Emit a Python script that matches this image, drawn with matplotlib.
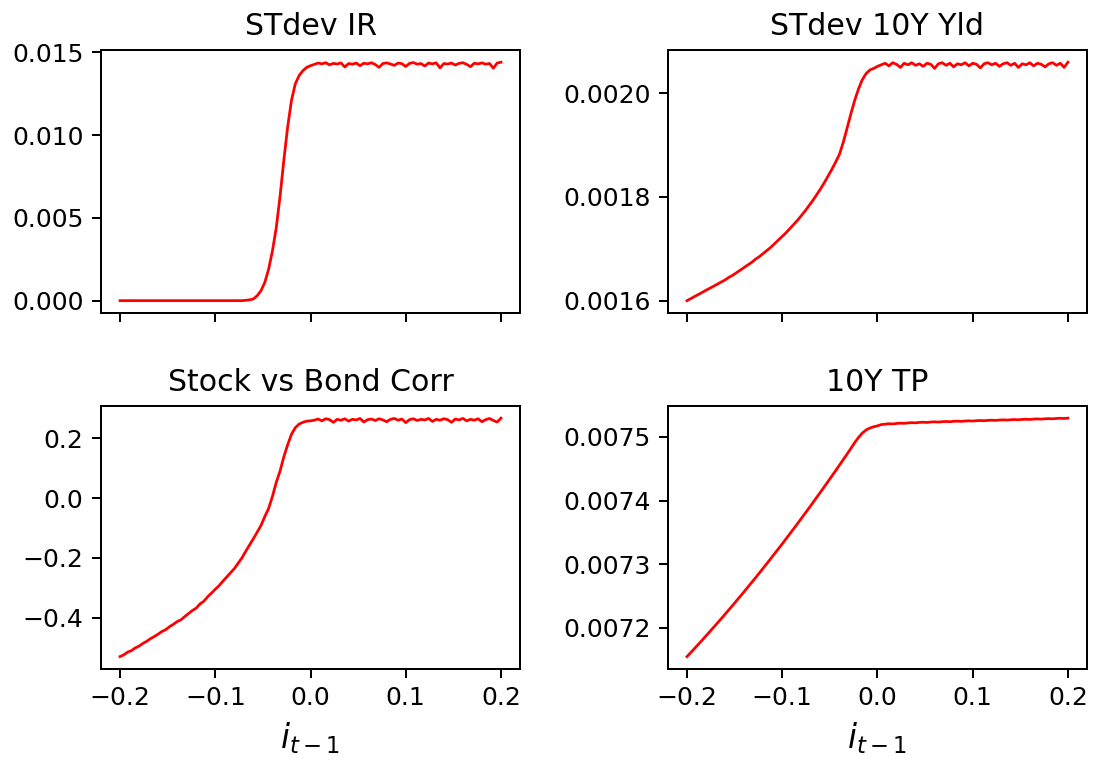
import numpy as np
import matplotlib.pyplot as plt

# lagged short rate grid, -0.2 .. 0.2 in steps of 0.004
i_lag = np.round(np.arange(101) * 0.004 - 0.2, 3)

stdev_ir = [
    0.0, 0.0, 0.0, 0.0, 0.0, 0.0, 0.0, 0.0, 0.0, 0.0,
    0.0, 0.0, 0.0, 0.0, 0.0, 0.0, 0.0, 0.0, 0.0, 0.0,
    0.0, 0.0, 0.0, 0.0, 0.0, 0.0, 0.0, 0.0, 0.0, 0.0,
    0.0, 0.0, 0.0, 0.00002, 0.00005, 0.0001, 0.0003, 0.0006, 0.0011, 0.0019,
    0.0030, 0.0044, 0.0063, 0.0085, 0.0105, 0.0121, 0.0131, 0.0136, 0.0139, 0.0141,
    0.0142, 0.01428, 0.01436, 0.01431, 0.01438, 0.01425, 0.01434, 0.01430, 0.01437, 0.01412,
    0.01433, 0.01429, 0.01436, 0.01420, 0.01435, 0.01431, 0.01438, 0.01427, 0.01410, 0.01433,
    0.01437, 0.01430, 0.01422, 0.01436, 0.01432, 0.01415, 0.01434, 0.01439, 0.01429, 0.01433,
    0.01418, 0.01436, 0.01431, 0.01437, 0.01407, 0.01433, 0.01430, 0.01436, 0.01424, 0.01434,
    0.01438, 0.01428, 0.01414, 0.01435, 0.01431, 0.01437, 0.01429, 0.01433, 0.01405, 0.01436,
    0.01441,
]

stdev_10y = [
    0.001600, 0.001604, 0.001608, 0.001612, 0.001616, 0.001620, 0.001624, 0.001628, 0.001632, 0.001636,
    0.001640, 0.001645, 0.001649, 0.001654, 0.001659, 0.001664, 0.001669, 0.001674, 0.001680, 0.001685,
    0.001691, 0.001697, 0.001703, 0.001710, 0.001717, 0.001724, 0.001731, 0.001739, 0.001747, 0.001755,
    0.001764, 0.001773, 0.001783, 0.001793, 0.001804, 0.001815, 0.001827, 0.001840, 0.001853, 0.001867,
    0.001882, 0.001905, 0.001932, 0.001960, 0.001986, 0.002008, 0.002026, 0.002038, 0.002045, 0.002048,
    0.002052, 0.002055, 0.002058, 0.002053, 0.002059, 0.002056, 0.002050, 0.002058, 0.002055, 0.002059,
    0.002054, 0.002057, 0.002052, 0.002058, 0.002056, 0.002048, 0.002057, 0.002059, 0.002054, 0.002058,
    0.002051, 0.002057, 0.002055, 0.002059, 0.002053, 0.002058, 0.002056, 0.002049, 0.002057, 0.002059,
    0.002055, 0.002058, 0.002052, 0.002057, 0.002059, 0.002054, 0.002058, 0.002050, 0.002057, 0.002055,
    0.002059, 0.002053, 0.002058, 0.002056, 0.002051, 0.002057, 0.002059, 0.002054, 0.002058, 0.002050,
    0.002060,
]

stock_bond_corr = [
    -0.530, -0.524, -0.515, -0.510, -0.501, -0.495, -0.486, -0.479, -0.470, -0.463,
    -0.455, -0.446, -0.440, -0.430, -0.422, -0.413, -0.407, -0.396, -0.386, -0.376,
    -0.368, -0.354, -0.345, -0.330, -0.318, -0.305, -0.293, -0.278, -0.264, -0.250,
    -0.236, -0.218, -0.200, -0.178, -0.157, -0.136, -0.114, -0.092, -0.062, -0.035,
    0.005, 0.052, 0.090, 0.138, 0.178, 0.213, 0.235, 0.247, 0.253, 0.257,
    0.258, 0.260, 0.264, 0.258, 0.265, 0.262, 0.253, 0.263, 0.260, 0.265,
    0.257, 0.263, 0.261, 0.266, 0.254, 0.262, 0.264, 0.259, 0.265, 0.261,
    0.255, 0.263, 0.266, 0.260, 0.264, 0.252, 0.262, 0.265, 0.259, 0.263,
    0.261, 0.266, 0.256, 0.263, 0.260, 0.265, 0.262, 0.253, 0.264, 0.261,
    0.266, 0.258, 0.263, 0.260, 0.265, 0.255, 0.262, 0.266, 0.259, 0.254,
    0.267,
]

tp_10y = [
    0.0071550, 0.0071614, 0.0071679, 0.0071744, 0.0071809, 0.0071876, 0.0071943, 0.0072010, 0.0072078, 0.0072147,
    0.0072216, 0.0072285, 0.0072356, 0.0072427, 0.0072498, 0.0072570, 0.0072643, 0.0072716, 0.0072789, 0.0072864,
    0.0072939, 0.0073014, 0.0073090, 0.0073167, 0.0073244, 0.0073321, 0.0073400, 0.0073479, 0.0073558, 0.0073638,
    0.0073719, 0.0073800, 0.0073881, 0.0073964, 0.0074047, 0.0074130, 0.0074214, 0.0074299, 0.0074384, 0.0074469,
    0.0074556, 0.0074643, 0.0074730, 0.0074818, 0.0074910, 0.0074990, 0.0075060, 0.0075110, 0.0075140, 0.0075160,
    0.0075175, 0.0075195, 0.0075201, 0.0075208, 0.0075205, 0.0075212, 0.0075217, 0.0075214, 0.0075221, 0.0075225,
    0.0075222, 0.0075229, 0.0075232, 0.0075228, 0.0075235, 0.0075238, 0.0075234, 0.0075240, 0.0075243, 0.0075240,
    0.0075246, 0.0075249, 0.0075245, 0.0075251, 0.0075254, 0.0075250, 0.0075256, 0.0075259, 0.0075255, 0.0075261,
    0.0075264, 0.0075260, 0.0075266, 0.0075269, 0.0075265, 0.0075271, 0.0075274, 0.0075270, 0.0075276, 0.0075279,
    0.0075275, 0.0075281, 0.0075284, 0.0075280, 0.0075286, 0.0075289, 0.0075285, 0.0075291, 0.0075294, 0.0075290,
    0.0075296,
]

titles = ["STdev IR", "STdev 10Y Yld", "Stock vs Bond Corr", "10Y TP"]
x_ticks = [-0.2, -0.1, 0.0, 0.1, 0.2]
yticks_ir = [0.000, 0.005, 0.010, 0.015]
yticks_10y = [0.0016, 0.0018, 0.0020]
yticks_corr = [-0.4, -0.2, 0.0, 0.2]
yticks_tp = [0.0072, 0.0073, 0.0074, 0.0075]


def main():
    fig, axes = plt.subplots(2, 2, sharex=True, figsize=(1093 / 180, 762 / 180), dpi=180)
    fig.subplots_adjust(left=0.0924, right=0.9945, bottom=0.1227, top=0.934,
                        wspace=0.353, hspace=0.357)

    series = [stdev_ir, stdev_10y, stock_bond_corr, tp_10y]
    yticks = [yticks_ir, yticks_10y, yticks_corr, yticks_tp]
    fmts = ["%.3f", "%.4f", "%.1f", "%.4f"]

    for ax, y, title, yt, fmt in zip(axes.flat, series, titles, yticks, fmts):
        ax.plot(i_lag, y, color="r", linewidth=1.1)
        ax.set_title(title)
        ax.set_yticks(yt)
        ax.set_yticklabels([(fmt % v).replace("-", "\u2212") for v in yt])

    for ax in axes[1]:
        ax.set_xticks(x_ticks)
        ax.set_xlabel(r"$i_{t-1}$", fontsize=13)

    fig.savefig("out.png", dpi=180)
    plt.close(fig)


if __name__ == "__main__":
    main()
